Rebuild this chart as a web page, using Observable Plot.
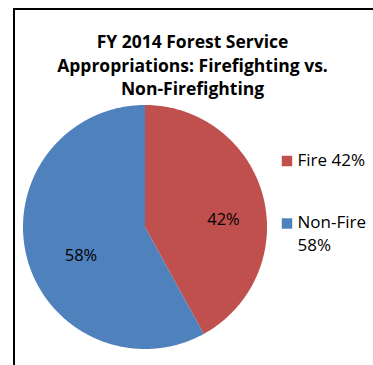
<!DOCTYPE html>
<html>
<head>
<meta charset="utf-8">
<script src="https://cdn.jsdelivr.net/npm/d3@7"></script>
<script src="https://cdn.jsdelivr.net/npm/@observablehq/plot@0.6"></script>
<style>
  html, body { margin: 0; padding: 0; background: #fff; }
  #wrap { position: relative; width: 373px; height: 365px; overflow: hidden; }
  #wrap svg { position: absolute; left: 0; top: 0; }
  #frame { position: absolute; left: 13px; top: 8px; width: 400px; height: 400px;
           border-left: 2px solid #000; border-top: 2.5px solid #000; box-sizing: border-box; }
</style>
</head>
<body>
<div id="wrap"><div id="frame"></div></div>
<script>
const categories = ["Fire", "Non-Fire"];
const shares = [42, 58];
const sliceLabels = ["42%", "58%"];
const legendLabels = ["Fire 42%", "Non-Fire\n58%"];
const colors = ["#C0504D", "#4F81BD"];
const titleLines = ["FY 2014 Forest Service", "Appropriations: Firefighting vs.", "Non-Firefighting"];

// pixel <-> data helpers (pie centre and radius)
const CX = 144.5, CY = 226.5, R = 122;
const ux = px => (px - CX) / R;
const uy = py => (CY - py) / R;

// slice polygons from shares (clockwise from 12 o'clock)
const total = d3.sum(shares);
const pts = [];
let acc = 0;
categories.forEach((c, i) => {
  const a0 = acc / total * 2 * Math.PI;
  acc += shares[i];
  const a1 = acc / total * 2 * Math.PI;
  pts.push({cat: c, x: 0, y: 0});
  const n = Math.max(2, Math.ceil((a1 - a0) / (Math.PI / 360)));
  for (let k = 0; k <= n; k++) {
    const a = a0 + (a1 - a0) * k / n;
    pts.push({cat: c, x: Math.sin(a), y: Math.cos(a)});
  }
});

const labelAt = {"Fire": [223, 219], "Non-Fire": [80.5, 255]};
const labelData = categories.map((c, i) => ({cat: c, text: sliceLabels[i], x: ux(labelAt[c][0]), y: uy(labelAt[c][1])}));

const legendRows = [160.5, 223];
const legendData = categories.map((c, i) => ({cat: c, text: legendLabels[i], x: ux(286.5), y: uy(legendRows[i]), tx: ux(297)}));

const titleBase = [47, 71, 94];
const titleData = titleLines.map((t, i) => ({text: t, x: ux(192), y: uy(titleBase[i] - 5.6)}));

const font = "'Open Sans', 'Liberation Sans', sans-serif";

const chart = Plot.plot({
  width: 373,
  height: 365,
  margin: 0,
  style: {background: "transparent", fontFamily: font},
  x: {domain: [-1, 1], range: [CX - R, CX + R], axis: null},
  y: {domain: [-1, 1], range: [CY + R, CY - R], axis: null},
  color: {domain: categories, range: colors},
  marks: [
    Plot.line(pts, {x: "x", y: "y", z: "cat", fill: "cat", stroke: "none", curve: "linear-closed"}),
    Plot.text(labelData, {x: "x", y: "y", text: "text", fill: "#000", fontSize: 16.5, textAnchor: "middle"}),
    Plot.dot(legendData, {x: "x", y: "y", fill: "cat", symbol: "square", r: 5.9, stroke: "none"}),
    Plot.text(legendData, {x: "tx", y: "y", text: "text", fill: "#000", fontSize: 17, textAnchor: "start", lineAnchor: "top", dy: -11.5, lineHeight: 1.35}),
    Plot.text(titleData, {x: "x", y: "y", text: "text", fill: "#000", fontSize: 17.5, fontWeight: "bold", textAnchor: "middle"})
  ]
});
document.getElementById("wrap").appendChild(chart);
</script>
</body>
</html>
